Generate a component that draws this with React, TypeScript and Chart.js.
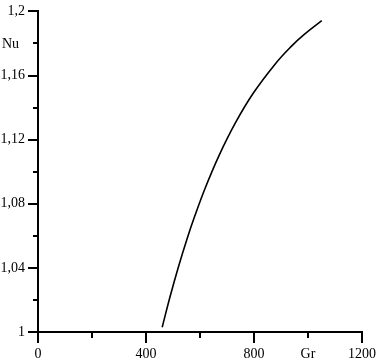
import React, { useEffect, useRef } from "react";
import { Chart, registerables } from "chart.js";

Chart.register(...registerables);

const grValues = [460, 490, 520, 554, 580, 619, 670, 730, 797, 878, 940, 983, 1051];
const nuValues = [1.003, 1.0226, 1.0406, 1.0591, 1.072, 1.0897, 1.1099, 1.1301, 1.1489, 1.1671, 1.1785, 1.1852, 1.1942];
const xTickLabels: Record<number, string> = { 0: "0", 400: "400", 800: "800", 1200: "1200" };
const yTickLabels = ["1", "1,04", "1,08", "1,12", "1,16", "1,2"];
const xTitle = "Gr";
const yTitle = "Nu";

const FONT = "'Liberation Serif', 'Times New Roman', serif";

const tickPlugin = {
  id: "customTicks",
  afterDraw(chart: any) {
    const ctx = chart.ctx;
    const xs = chart.scales.x;
    const ys = chart.scales.y;
    const yAxis = ys.right;
    const xAxis = xs.top;
    ctx.save();
    ctx.strokeStyle = "#000";
    ctx.lineWidth = 2;
    ctx.beginPath();
    for (let v = 0; v <= 1200; v += 200) {
      const px = Math.round(xs.getPixelForValue(v));
      const len = v % 400 === 0 ? 11 : 6;
      ctx.moveTo(px, xAxis);
      ctx.lineTo(px, xAxis + len);
    }
    for (let i = 0; i <= 10; i++) {
      const v = 1 + i * 0.02;
      const py = Math.round(ys.getPixelForValue(v));
      const len = i % 2 === 0 ? 10 : 5;
      ctx.moveTo(yAxis, py);
      ctx.lineTo(yAxis - len, py);
    }
    ctx.stroke();
    ctx.fillStyle = "#000";
    ctx.font = "14px " + FONT;
    ctx.textBaseline = "middle";
    ctx.textAlign = "left";
    ctx.fillText(yTitle, 2, ys.getPixelForValue(1.18) + 1);
    ctx.textAlign = "center";
    ctx.textBaseline = "top";
    ctx.fillText(xTitle, xs.getPixelForValue(1000), xAxis + 15);
    ctx.restore();
  },
};

export default function App() {
  const ref = useRef<HTMLCanvasElement>(null);
  useEffect(() => {
    if (!ref.current) return;
    const chart = new Chart(ref.current, {
      type: "scatter",
      data: {
        datasets: [
          {
            data: grValues.map((g, i) => ({ x: g, y: nuValues[i] })),
            showLine: true,
            borderColor: "#000",
            borderWidth: 1.6,
            pointRadius: 0,
            tension: 0.4,
          } as any,
        ],
      },
      options: {
        animation: false,
        responsive: false,
        events: [],
        layout: { autoPadding: false, padding: { top: 7, right: 18, left: 0, bottom: 0 } },
        plugins: { legend: { display: false }, tooltip: { enabled: false } },
        scales: {
          x: {
            type: "linear",
            min: 0,
            max: 1200,
            afterFit: (s: any) => {
              s.height = 29;
            },
            border: { display: true, color: "#000", width: 2 },
            grid: { drawOnChartArea: false, drawTicks: true, tickLength: 10, tickColor: "transparent" },
            ticks: {
              stepSize: 200,
              autoSkip: false,
              maxRotation: 0,
              padding: 4,
              color: "#000",
              font: { family: FONT, size: 14 },
              callback: (v: any) => xTickLabels[Number(v)] ?? "",
            },
          },
          y: {
            type: "linear",
            min: 1,
            max: 1.2,
            afterFit: (s: any) => {
              s.width = 38;
            },
            border: { display: true, color: "#000", width: 2 },
            grid: { drawOnChartArea: false, drawTicks: true, tickLength: 10, tickColor: "transparent" },
            ticks: {
              stepSize: 0.02,
              autoSkip: false,
              padding: 3,
              color: "#000",
              font: { family: FONT, size: 14 },
              callback: (v: any) => {
                const i = Math.round((Number(v) - 1) / 0.02);
                return i % 2 === 0 ? yTickLabels[i / 2] : "";
              },
            },
          },
        },
      },
      plugins: [tickPlugin],
    });
    return () => chart.destroy();
  }, []);
  return (
    <div style={{ position: "absolute", left: 0, top: 0, width: 380, height: 361, background: "#fff" }}>
      <canvas ref={ref} width={380} height={361} style={{ display: "block" }} />
    </div>
  );
}
